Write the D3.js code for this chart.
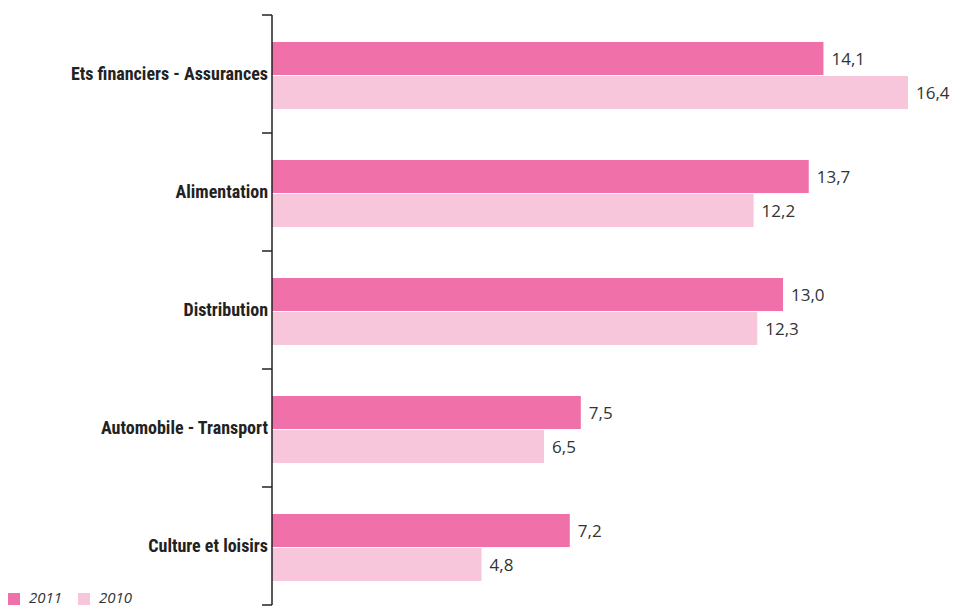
<!DOCTYPE html>
<html><head><meta charset="utf-8">
<script src="https://cdn.jsdelivr.net/npm/d3@7"></script>
<style>body{margin:0;background:#fff;}svg{display:block;}</style>
</head><body>
<script>
const categories = ["Ets financiers - Assurances","Alimentation","Distribution","Automobile - Transport","Culture et loisirs"];
const series = ["2011","2010"];
const values2011 = [14.1,13.7,13.0,7.5,7.2];
const values2010 = [16.4,12.2,12.3,6.5,4.8];
const colors = ["#f070a9","#f7c6da"];

const W=957,H=607;
const svg=d3.select("body").append("svg").attr("width",W).attr("height",H);
// the reference axis baseline sits slightly left of zero
const x=d3.scaleLinear().domain([-0.9,16.4]).range([272,908]);
const x0=x.range()[0];
const y=d3.scaleBand().domain(categories).range([15,605]).paddingInner(0.432).paddingOuter(0.216);
const yi=d3.scaleBand().domain(series).range([0,y.bandwidth()]).paddingInner(0.03);

const data=categories.map((c,i)=>({c,vals:[values2011[i],values2010[i]]}));
const fmt=v=>d3.format(".1f")(v).replace(".",",");

const g=svg.selectAll("g.cat").data(data).join("g").attr("transform",d=>`translate(0,${y(d.c)+1.5})`);
g.selectAll("rect").data(d=>d.vals.map((v,j)=>({v,s:series[j],j}))).join("rect")
 .attr("x",x0).attr("y",d=>yi(d.s)).attr("width",d=>x(d.v)-x0).attr("height",yi.bandwidth())
 .attr("fill",d=>colors[d.j]);
g.selectAll("text.val").data(d=>d.vals.map((v,j)=>({v,s:series[j],j}))).join("text")
 .attr("class","val").attr("x",d=>x(d.v)+8).attr("y",d=>yi(d.s)+yi.bandwidth()/2)
 .attr("dy","0.36em").attr("font-family","'Open Sans',sans-serif").attr("font-size",17)
 .attr("fill","#333").text(d=>fmt(d.v));

const boundaries=d3.range(categories.length+1).map(i=>15+i*118);
svg.append("line").attr("x1",x0).attr("x2",x0).attr("y1",15).attr("y2",605).attr("stroke","#222").attr("stroke-width",1.5);
svg.selectAll("line.tick").data(boundaries).join("line").attr("class","tick")
 .attr("x1",x0-10).attr("x2",x0).attr("y1",d=>d).attr("y2",d=>d).attr("stroke","#222").attr("stroke-width",1.5);
svg.selectAll("text.cat").data(categories).join("text").attr("class","cat")
 .attr("x",268).attr("y",d=>y(d)+y.bandwidth()/2).attr("dy","0.36em").attr("text-anchor","end")
 .attr("font-family","'Liberation Sans Narrow','Roboto Condensed','Arial Narrow',Roboto,sans-serif")
 .attr("font-weight","bold").attr("font-size",18).attr("fill","#222").text(d=>d);

const lg=svg.append("g");
const lx=[8,78];
series.forEach((s,j)=>{
  lg.append("rect").attr("x",lx[j]).attr("y",593).attr("width",12).attr("height",12).attr("fill",colors[j]);
  lg.append("text").attr("x",lx[j]+21).attr("y",603).attr("font-family","'Open Sans',sans-serif")
    .attr("font-style","italic").attr("font-size",15).attr("fill","#333").text(s);
});
</script>
</body></html>
